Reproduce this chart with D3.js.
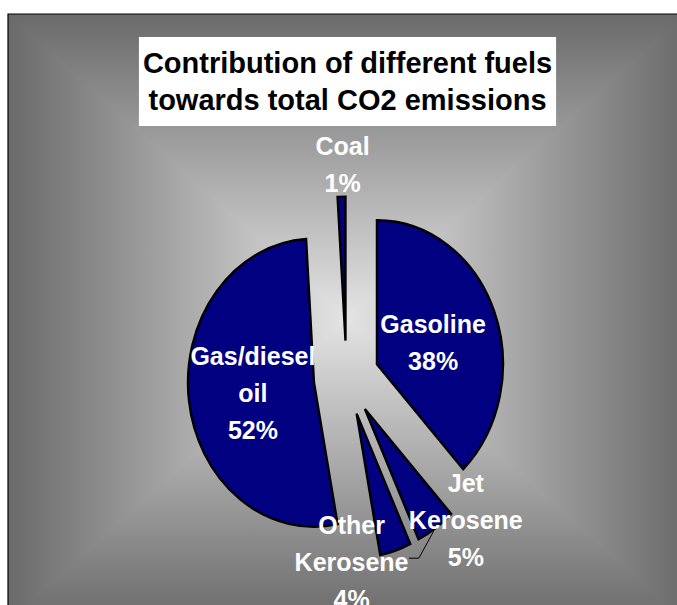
<!DOCTYPE html>
<html><head><meta charset="utf-8">
<script src="https://cdn.jsdelivr.net/npm/d3@7"></script>
<style>html,body{margin:0;padding:0;background:#fff;}svg{display:block;}</style>
</head><body>
<svg id="chart" width="677" height="605"></svg>
<script>
// ---- data ----
const categories = ["Gasoline", "Jet Kerosene", "Other Kerosene", "Gas/diesel oil", "Coal"];
const values = [38, 5, 4, 52, 1];
const titleLines = ["Contribution of different fuels", "towards total CO2 emissions"];

// ---- layout (not data) ----
const W = 677, H = 605;
const frame = {x0: 8, y0: 14, x1: 686, y1: 622};
const center = {x: 346.5, y: 378};
const R = 144, sx = 0.875, explode = 0.26;
const labelPolar = { // radius (unscaled), angle in degrees clockwise from 12 o'clock
  "Gasoline": [105, 70.5],
  "Jet Kerosene": [197, 136.2],
  "Other Kerosene": [184, 178.2],
  "Gas/diesel oil": [108, 262],
  "Coal": [213.5, 358.8]
};
const lineH = 37;

const svg = d3.select("#chart");
const defs = svg.append("defs");

// ---- rectangular gradient background ----
const cx = (frame.x0 + frame.x1) / 2, cy = (frame.y0 + frame.y1) / 2;
const dark = "#6a6a6a", light = "#e4e4e4";
const tris = [
  {id: "gT", pts: [[frame.x0, frame.y0], [frame.x1, frame.y0], [cx, cy]], g: [cx, frame.y0, cx, cy]},
  {id: "gB", pts: [[frame.x0, frame.y1], [frame.x1, frame.y1], [cx, cy]], g: [cx, frame.y1, cx, cy]},
  {id: "gL", pts: [[frame.x0, frame.y0], [frame.x0, frame.y1], [cx, cy]], g: [frame.x0, cy, cx, cy]},
  {id: "gR", pts: [[frame.x1, frame.y0], [frame.x1, frame.y1], [cx, cy]], g: [frame.x1, cy, cx, cy]}
];
tris.forEach(t => {
  const lg = defs.append("linearGradient").attr("id", t.id).attr("gradientUnits", "userSpaceOnUse")
    .attr("x1", t.g[0]).attr("y1", t.g[1]).attr("x2", t.g[2]).attr("y2", t.g[3]);
  lg.append("stop").attr("offset", 0).attr("stop-color", dark);
  lg.append("stop").attr("offset", 1).attr("stop-color", light);
});
svg.append("rect").attr("x", frame.x0).attr("y", frame.y0)
  .attr("width", frame.x1 - frame.x0).attr("height", frame.y1 - frame.y0).attr("fill", "#a8a8a8");
svg.append("g").attr("shape-rendering", "crispEdges").selectAll("path").data(tris).join("path")
  .attr("d", t => "M" + t.pts.map(p => p.join(",")).join("L") + "Z")
  .attr("fill", t => "url(#" + t.id + ")");
svg.append("path")
  .attr("d", `M${frame.x0},${frame.y1}V${frame.y0}H${frame.x1}`)
  .attr("fill", "none").attr("stroke", "#000").attr("stroke-width", 1.2);

// ---- pie ----
const total = d3.sum(values);
const pie = d3.pie().sort(null).value(d => d.v)(categories.map((c, i) => ({c, v: values[i]})));
const arc = d3.arc().innerRadius(0).outerRadius(R);
const mid = d => (d.startAngle + d.endAngle) / 2;

const pieG = svg.append("g").attr("transform", `translate(${center.x},${center.y}) scale(${sx},1)`);
pieG.selectAll("path").data(pie).join("path")
  .attr("transform", d => `translate(${explode * R * Math.sin(mid(d))},${-explode * R * Math.cos(mid(d))})`)
  .attr("d", arc)
  .attr("fill", "#000080")
  .attr("stroke", "#000").attr("stroke-width", 2.4)
  .attr("stroke-linejoin", "miter")
  .attr("vector-effect", "non-scaling-stroke");

// ---- labels ----
const labG = svg.append("g").attr("font-family", "Liberation Sans, Arial, sans-serif")
  .attr("font-weight", "bold").attr("font-size", 25).attr("fill", "#fff").attr("text-anchor", "middle");
const labelPos = {};
pie.forEach(d => {
  const [lr, la] = labelPolar[d.data.c];
  const a = la * Math.PI / 180;
  const lx = center.x + sx * lr * Math.sin(a), ly = center.y - lr * Math.cos(a);
  const lines = d.data.c.split(" ").concat([Math.round(d.data.v / total * 100) + "%"]);
  const n = lines.length;
  const t = labG.append("text");
  lines.forEach((s, i) => {
    t.append("tspan").attr("x", lx).attr("y", ly + (i - (n - 1) / 2) * lineH + 9).text(s);
  });
  labelPos[d.data.c] = {lx, ly, t};
});

// leader line for Jet Kerosene
const jet = pie.find(d => d.data.c === "Jet Kerosene");
{
  const m = mid(jet);
  const ax = center.x + sx * (explode * R + R) * Math.sin(m) - 2;
  const ay = center.y - (explode * R + R) * Math.cos(m) + 3;
  const lp = labelPos["Jet Kerosene"];
  const kb = lp.t.selectAll("tspan").nodes()[1].getBBox();
  const ey = lp.ly + 38;
  svg.insert("path", "g:last-of-type")
    .attr("d", `M${ax},${ay}L${kb.x + 10},${ey}H${kb.x}`)
    .attr("fill", "none").attr("stroke", "#000").attr("stroke-width", 1);
}

// ---- title ----
const titleG = svg.append("g");
const tt = titleG.append("text").attr("font-family", "Liberation Sans, Arial, sans-serif")
  .attr("font-weight", "bold").attr("font-size", 29).attr("fill", "#000").attr("text-anchor", "middle");
titleLines.forEach((s, i) => tt.append("tspan").attr("x", 347.5).attr("y", 73 + i * 37).text(s));
const tb = tt.node().getBBox();
titleG.insert("rect", "text").attr("x", tb.x - 4).attr("y", 37).attr("width", tb.width + 8).attr("height", 89).attr("fill", "#fff");
</script>
</body></html>
